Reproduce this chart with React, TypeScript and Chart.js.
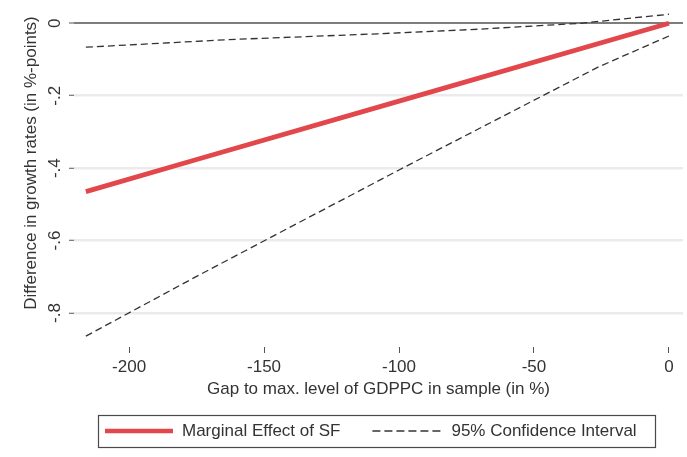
import React, { useEffect, useRef } from 'react';
import { Chart, registerables } from 'chart.js';

Chart.register(...registerables);

// ---- data ----
const marginalX = [-216, -174, -100, 0];
const marginalEffect = [-0.465, -0.374, -0.215, 0];

const upperX = [-216, -163, -108, -70, -33, 0];
const ciUpper = [-0.066, -0.045, -0.029, -0.016, 0.0, 0.025];

const lowerX = [-216, -174, -100, -26, 0];
const ciLower = [-0.864, -0.695, -0.405, -0.12, -0.035];

const xTicks = [-200, -150, -100, -50, 0];
const yTicks = [-0.8, -0.6, -0.4, -0.2, 0];
const yTickLabels = ['-.8', '-.6', '-.4', '-.2', '0'];

const seriesLabels = ['Marginal Effect of SF', '95% Confidence Interval'];
const xTitle = 'Gap to max. level of GDPPC in sample (in %)';
const yTitle = 'Difference in growth rates (in %-points)';

const FONT = '"Liberation Sans", Arial, Helvetica, sans-serif';
const TEXT = '#333333';
const RED = '#e2474b';
const DARK = '#333333';

const toPoints = (xs: number[], ys: number[]) => xs.map((x, i) => ({ x, y: ys[i] }));

const stataPlugin = {
  id: 'stataDecor',
  afterDraw(chart: any) {
    const ctx = chart.ctx as CanvasRenderingContext2D;
    const area = chart.chartArea;
    const xs = chart.scales.x;
    ctx.save();
    ctx.font = `17px ${FONT}`;
    ctx.fillStyle = TEXT;

    // y-axis title
    ctx.save();
    ctx.translate(31, (area.top + area.bottom) / 2 - 17);
    ctx.rotate(-Math.PI / 2);
    ctx.textAlign = 'center';
    ctx.textBaseline = 'middle';
    ctx.fillText(yTitle, 0, 0);
    ctx.restore();

    // legend
    const w1 = ctx.measureText(seriesLabels[0]).width;
    const w2 = ctx.measureText(seriesLabels[1]).width;
    const total = 7 + 68 + 9 + w1 + 32 + 72 + 7 + w2 + 18;
    const left = Math.round((area.left + area.right) / 2 - 2 - total / 2);
    const top = Math.round(xs.bottom + 8);
    const h = 32;
    const cy = top + h / 2;

    ctx.strokeStyle = '#4a4a4a';
    ctx.lineWidth = 1.2;
    ctx.setLineDash([]);
    ctx.strokeRect(left + 0.5, top + 0.5, Math.round(total), h);

    let cx = left + 7;
    ctx.strokeStyle = RED;
    ctx.lineWidth = 4.5;
    ctx.beginPath();
    ctx.moveTo(cx, cy);
    ctx.lineTo(cx + 68, cy);
    ctx.stroke();
    cx += 68 + 9;
    ctx.textAlign = 'left';
    ctx.textBaseline = 'middle';
    ctx.fillText(seriesLabels[0], cx, cy);
    cx += w1 + 32;

    ctx.strokeStyle = DARK;
    ctx.lineWidth = 1.3;
    ctx.setLineDash([8, 4]);
    ctx.beginPath();
    ctx.moveTo(cx, cy);
    ctx.lineTo(cx + 72, cy);
    ctx.stroke();
    ctx.setLineDash([]);
    cx += 72 + 7;
    ctx.fillText(seriesLabels[1], cx, cy);

    ctx.restore();
  },
};

export default function App() {
  const canvasRef = useRef<HTMLCanvasElement | null>(null);

  useEffect(() => {
    const canvas = canvasRef.current;
    if (!canvas) return;
    const chart = new Chart(canvas, {
      type: 'line',
      data: {
        datasets: [
          {
            label: seriesLabels[1],
            data: toPoints(upperX, ciUpper),
            borderColor: DARK,
            borderWidth: 1.3,
            borderDash: [7, 4],
            pointRadius: 0,
            fill: false,
            tension: 0,
            clip: 8,
          },
          {
            label: seriesLabels[1] + ' (lower)',
            data: toPoints(lowerX, ciLower),
            borderColor: DARK,
            borderWidth: 1.3,
            borderDash: [7, 4],
            pointRadius: 0,
            fill: false,
            tension: 0,
            clip: 8,
          },
          {
            label: seriesLabels[0],
            data: toPoints(marginalX, marginalEffect),
            borderColor: RED,
            borderWidth: 4.8,
            pointRadius: 0,
            fill: false,
            tension: 0,
            clip: 8,
          },
        ],
      },
      options: {
        responsive: false,
        animation: false,
        events: [],
        font: { family: FONT, size: 17 },
        color: TEXT,
        layout: { padding: { left: 0, right: 4, top: 13, bottom: 50 } },
        plugins: {
          legend: { display: false },
          tooltip: { enabled: false },
        },
        scales: {
          x: {
            type: 'linear',
            min: -220.4,
            max: 5.2,
            afterBuildTicks: (scale: any) => {
              scale.ticks = xTicks.map((v) => ({ value: v }));
            },
            afterFit: (scale: any) => {
              scale.height = 60;
            },
            border: { display: false },
            grid: {
              drawOnChartArea: false,
              drawTicks: true,
              tickLength: 6,
              tickColor: '#555555',
              tickWidth: 1,
            },
            ticks: {
              color: TEXT,
              font: { family: FONT, size: 17 },
              padding: 4.3,
              maxRotation: 0,
              autoSkip: false,
              callback: (v: any) => String(v),
            },
            title: {
              display: true,
              text: xTitle,
              color: TEXT,
              font: { family: FONT, size: 17 },
              padding: { top: 0, bottom: 7.8 },
            },
          },
          y: {
            type: 'linear',
            min: -0.894,
            max: 0.0285,
            afterBuildTicks: (scale: any) => {
              scale.ticks = yTicks.map((v) => ({ value: v }));
            },
            afterFit: (scale: any) => {
              scale.width = 74;
            },
            border: { display: false },
            grid: {
              drawOnChartArea: true,
              drawTicks: true,
              tickLength: 5,
              tickWidth: 1,
              tickColor: '#555555',
              color: (c: any) => (c.tick && Math.abs(c.tick.value) < 1e-9 ? '#7d7d7d' : '#ebebeb'),
              lineWidth: (c: any) => (c.tick && Math.abs(c.tick.value) < 1e-9 ? 2 : 2.5),
            },
            ticks: {
              color: TEXT,
              font: { family: FONT, size: 17, lineHeight: 1 },
              padding: 4.1,
              minRotation: 90,
              maxRotation: 90,
              crossAlign: 'center',
              autoSkip: false,
              callback: (v: any) => {
                const i = yTicks.findIndex((t) => Math.abs(t - Number(v)) < 1e-9);
                return i >= 0 ? yTickLabels[i] : '';
              },
            },
            title: { display: false },
          },
        },
      },
      plugins: [stataPlugin],
    } as any);
    return () => chart.destroy();
  }, []);

  return (
    <div style={{ position: 'fixed', left: 0, top: 0, width: 687, height: 457, background: '#ffffff' }}>
      <canvas ref={canvasRef} width={687} height={457} style={{ display: 'block' }} />
    </div>
  );
}
